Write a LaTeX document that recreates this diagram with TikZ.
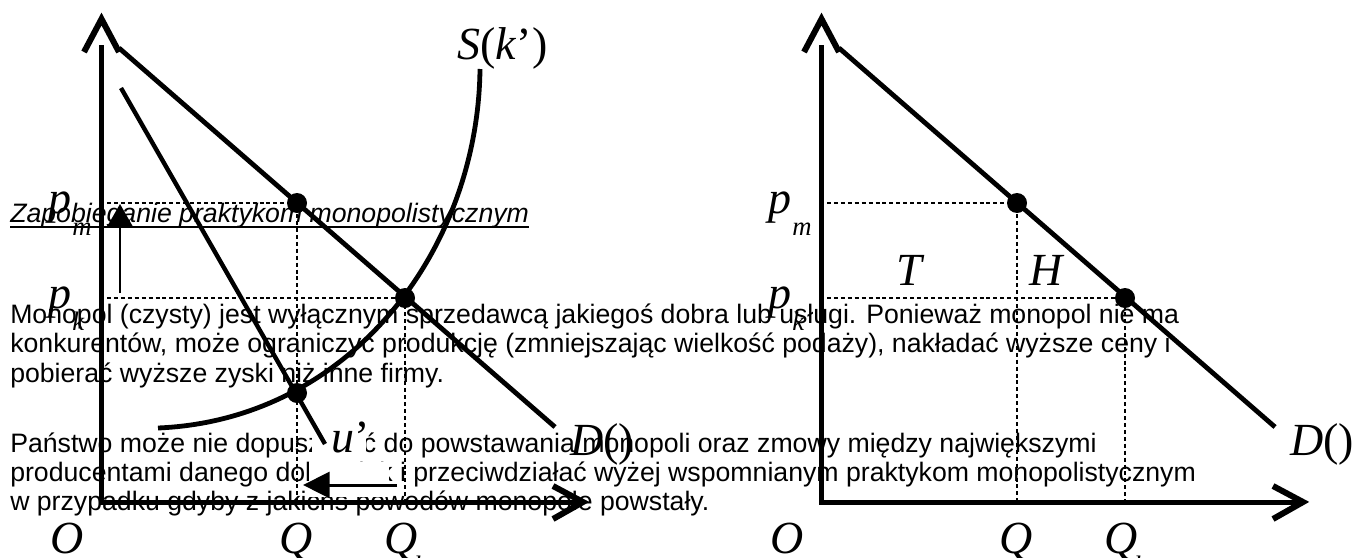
\documentclass[tikz,border=0pt]{standalone}
\usepackage{fontspec}
\setmainfont{Liberation Sans}
\newfontfamily\tnr{Liberation Serif}
\usetikzlibrary{arrows.meta}
\begin{document}
\begin{tikzpicture}[x=0.75pt,y=-0.75pt,
  body/.style={anchor=base west, inner sep=0pt, font=\fontsize{20pt}{20pt}\selectfont},
  titlef/.style={anchor=base west, inner sep=0pt, font=\itshape\fontsize{20pt}{20pt}\selectfont},
  lab/.style={anchor=base west, inner sep=0pt, font=\tnr\fontsize{34.5pt}{34.5pt}\selectfont},
  sublab/.style={anchor=base west, inner sep=0pt, font=\tnr\itshape\fontsize{20pt}{20pt}\selectfont},
  axisline/.style={line width=3.75pt, line join=miter},
  chev/.style={line width=4.5pt, line join=miter, miter limit=10},
  curveline/.style={line width=3.6pt},
  guide/.style={line width=1.1pt, dash pattern=on 3pt off 2.2pt},
  dot/.style={circle, fill=black, inner sep=0pt, minimum size=15pt},
  shiftarrow/.style={line width=1.5pt, -{Triangle[length=17pt,width=19pt]}},
  backarrow/.style={line width=2.25pt, -{Triangle[length=20pt,width=19.5pt]}},
  mask/.style={fill=white, draw=none}
]
\useasboundingbox (0,0) rectangle (1359,557);

% ---- text layer ----
\node[titlef] (title) at (10,222) {Zapobieganie praktykom monopolistycznym};
\draw[line width=1.4pt] ([yshift=-3.5pt]title.base west) -- ([yshift=-3.5pt]title.base east);
\node[body] (l1) at (10,323) {Monopol (czysty) jest wyłącznym sprzedawcą jakiegoś dobra lub usługi. Ponieważ monopol nie ma};
\node[body] (l2) at (10,352.5) {konkurentów, może ograniczyć produkcję (zmniejszając wielkość podaży), nakładać wyższe ceny i};
\node[body] (l3) at (10,382) {pobierać wyższe zyski niż inne firmy.};
\node[body] (l4) at (10,452) {Państwo może nie dopuszczać do powstawania monopoli oraz zmowy między największymi};
\node[body] (l5) at (10,481) {producentami danego dobra, jak i przeciwdziałać wyżej wspomnianym praktykom monopolistycznym};
\node[body] (l6) at (10,510) {w przypadku gdyby z jakichś powodów monopole powstały.};

% ---- white masks ----
\fill[mask] (309,462) rectangle (389,497);
\fill[mask] (312,424) rectangle (366,458);

% ================= LEFT GRAPH =================
\coordinate (Ltop) at (101.5,45);
\coordinate (Lorig) at (101.5,502);
\coordinate (Lend) at (578,502);
\draw[axisline] (Ltop) -- (Lorig) -- (Lend);
\coordinate (Lca) at (84,52); \coordinate (Lcb) at (101.5,19); \coordinate (Lcc) at (119,52);
\draw[chev] (Lca) -- (Lcb) -- (Lcc);
\coordinate (Lra) at (553,486); \coordinate (Lrb) at (583,502); \coordinate (Lrc) at (553,519);
\draw[chev] (Lra) -- (Lrb) -- (Lrc);

\node[dot] (Lm) at (297,203) {};
\node[dot] (Le) at (405,298) {};
\node[dot] (Lc) at (297,393) {};

\coordinate (LpmA) at (107,203);
\coordinate (LpmB) at (297,502);
\coordinate (LpkA) at (107,298);
\coordinate (LpkB) at (405,502);
\draw[guide] (LpmA) -- (Lm.center) -- (LpmB);
\draw[guide] (LpkA) -- (Le.center) -- (LpkB);

\coordinate (LDa) at (119,48); \coordinate (LDb) at (555,427);
\draw[curveline] (LDa) -- (LDb);
\coordinate (LMa) at (121,88); \coordinate (LMb) at (325,444);
\draw[line width=3.3pt] (LMa) -- (LMb);
\coordinate (LSa) at (158,428); \coordinate (LSb) at (480,69);
\draw[curveline] (LSa) .. controls (350,420) and (478,250) .. (LSb);

\coordinate (UAa) at (120,293); \coordinate (UAb) at (120,204);
\draw[shiftarrow] (UAa) -- (UAb);
\coordinate (BAa) at (397,485); \coordinate (BAb) at (303,485);
\draw[backarrow] (BAa) -- (BAb);

\node[lab] (Lp1) at (48,213) {\itshape p};
\node[sublab] (Lp1s) at (72,235) {m};
\node[lab] (Lp2) at (48,308) {\itshape p};
\node[sublab] (Lp2s) at (72,330) {k};
\node[lab] (Slab) at (457,59) {\textit{S}(\textit{k}’)};
\node[lab] (LDlab) at (570,455) {\textit{D}()};
\node[lab] (ulab) at (331,452) {\textit{u}’};
\node[lab] (LO) at (50,553) {\itshape O};
\node[lab] (LQ1) at (279,553) {\itshape Q};
\node[sublab] (LQ1s) at (309,574) {m};
\node[lab] (LQ2) at (384,553) {\itshape Q};
\node[sublab] (LQ2s) at (414,574) {k};

% ================= RIGHT GRAPH =================
\coordinate (Rtop) at (821.5,45);
\coordinate (Rorig) at (821.5,502);
\coordinate (Rend) at (1298,502);
\draw[axisline] (Rtop) -- (Rorig) -- (Rend);
\coordinate (Rca) at (804,52); \coordinate (Rcb) at (821.5,19); \coordinate (Rcc) at (839,52);
\draw[chev] (Rca) -- (Rcb) -- (Rcc);
\coordinate (Rra) at (1273,486); \coordinate (Rrb) at (1303,502); \coordinate (Rrc) at (1273,519);
\draw[chev] (Rra) -- (Rrb) -- (Rrc);

\node[dot] (Rm) at (1017,203) {};
\node[dot] (Rk) at (1125,298) {};
\coordinate (RpmA) at (827,203);
\coordinate (RpmB) at (1017,502);
\coordinate (RpkA) at (827,298);
\coordinate (RpkB) at (1125,502);
\draw[guide] (RpmA) -- (Rm.center) -- (RpmB);
\draw[guide] (RpkA) -- (Rk.center) -- (RpkB);

\coordinate (RDa) at (839,48); \coordinate (RDb) at (1275,427);
\draw[curveline] (RDa) -- (RDb);

\node[lab] (Rp1) at (768,213) {\itshape p};
\node[sublab] (Rp1s) at (792,235) {m};
\node[lab] (Rp2) at (768,308) {\itshape p};
\node[sublab] (Rp2s) at (792,330) {k};
\node[lab] (Tlab) at (896,285) {\itshape T};
\node[lab] (Hlab) at (1029,285) {\itshape H};
\node[lab] (RDlab) at (1290,455) {\textit{D}()};
\node[lab] (RO) at (770,553) {\itshape O};
\node[lab] (RQ1) at (999,553) {\itshape Q};
\node[sublab] (RQ1s) at (1029,574) {m};
\node[lab] (RQ2) at (1104,553) {\itshape Q};
\node[sublab] (RQ2s) at (1134,574) {k};
\end{tikzpicture}
\end{document}
